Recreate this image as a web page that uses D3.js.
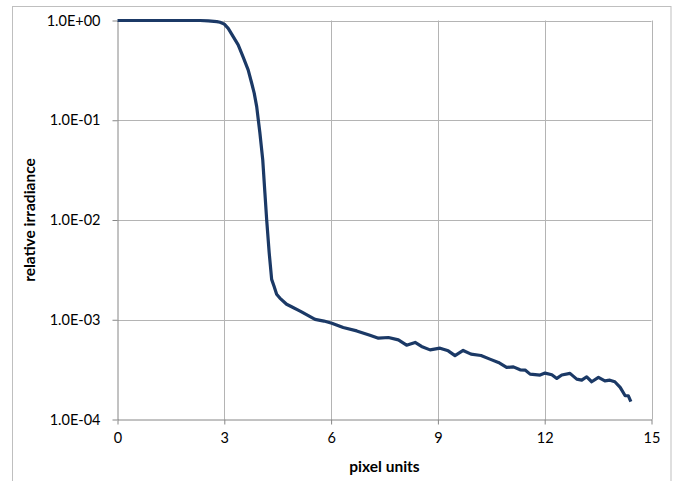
<!DOCTYPE html>
<html>
<head>
<meta charset="utf-8">
<script src="https://cdn.jsdelivr.net/npm/d3@7"></script>
<style>
  html, body { margin: 0; padding: 0; background: #fff; }
  svg { display: block; }
  text { font-family: Lato, "Liberation Sans", Arial, sans-serif; fill: #000; }
</style>
</head>
<body>
<svg id="chart" width="673" height="481"></svg>
<script>
// Edge profile: relative irradiance against distance in pixel units
const pixelUnits = [
  0, 0.5, 1.0, 1.5, 2.0, 2.32, 2.55, 2.79, 2.88, 3.0, 3.11, 3.25, 3.39, 3.53, 3.67, 3.77, 3.84, 3.91, 4.0, 4.08,
  4.14, 4.19, 4.26, 4.33, 4.4, 4.47, 4.56, 4.75, 4.89, 5.13, 5.22, 5.55, 5.8, 6.02,
  6.34, 6.72, 7.09, 7.33, 7.61, 7.89, 8.12, 8.36, 8.54, 8.78, 9.06, 9.29, 9.48,
  9.71, 9.93, 10.21, 10.46, 10.70, 10.93, 11.12, 11.31, 11.45, 11.59, 11.87, 12.01,
  12.20, 12.34, 12.48, 12.71, 12.90, 13.04, 13.18, 13.32, 13.51, 13.69, 13.83,
  13.97, 14.12, 14.26, 14.35, 14.42
];
const irradiance = [
  1.0, 1.0, 1.0, 1.0, 1.0, 1.0, 0.99, 0.975, 0.96, 0.92, 0.835, 0.69, 0.57, 0.43, 0.32, 0.235, 0.187, 0.137, 0.0745, 0.040,
  0.0188, 0.0101, 0.00473, 0.00254, 0.00215, 0.00180, 0.00165, 0.00143, 0.00135, 0.00122, 0.00117, 0.00101, 0.00097, 0.000923,
  0.000836, 0.000773, 0.000700, 0.000653, 0.000664, 0.000628, 0.000556, 0.000592, 0.000540, 0.000499, 0.000519, 0.000488, 0.000437,
  0.000492, 0.000452, 0.000438, 0.000403, 0.000373, 0.000333, 0.000337, 0.000315, 0.000313, 0.000285, 0.000279, 0.000292,
  0.000281, 0.000258, 0.000279, 0.000290, 0.000254, 0.000248, 0.000268, 0.000239, 0.000264, 0.000244, 0.000248,
  0.000239, 0.000210, 0.000173, 0.000173, 0.000151
];
const xTicks = [0, 3, 6, 9, 12, 15];
const yTicks = [1e-4, 1e-3, 1e-2, 1e-1, 1];
const xTitle = "pixel units";
const yTitle = "relative irradiance";

const svg = d3.select("#chart");
const plotLeft = 117.5, plotRight = 651.5, plotTop = 20.5, plotBottom = 419.5;

const x = d3.scaleLinear().domain([0, 15]).range([plotLeft, plotRight]);
const y = d3.scaleLog().domain([1e-4, 1]).range([plotBottom, plotTop]);

// outer chart frame
svg.append("rect")
  .attr("x", 12.5).attr("y", 6.5)
  .attr("width", 658.5).attr("height", 490)
  .attr("fill", "none").attr("stroke", "#bfbfbf").attr("stroke-width", 1);

// gridlines
const grid = svg.append("g").attr("stroke", "#b4b4b4").attr("stroke-width", 1);
grid.selectAll("line.v").data(xTicks.filter(d => d > 0)).join("line")
  .attr("x1", d => Math.round(x(d)) + 0.5).attr("x2", d => Math.round(x(d)) + 0.5)
  .attr("y1", plotTop).attr("y2", plotBottom);
grid.selectAll("line.h").data(yTicks.filter(d => d > 1e-4)).join("line")
  .attr("y1", d => Math.round(y(d)) + 0.5).attr("y2", d => Math.round(y(d)) + 0.5)
  .attr("x1", plotLeft).attr("x2", plotRight);

// x axis
const xAxis = svg.append("g")
  .attr("transform", `translate(0,${plotBottom})`)
  .call(d3.axisBottom(x).tickValues(xTicks).tickSizeInner(5).tickSizeOuter(0).tickPadding(8).tickFormat(d3.format("d")));
xAxis.select(".domain").attr("stroke", "#868686");
xAxis.selectAll(".tick line").attr("stroke", "#868686");
xAxis.selectAll("text").attr("font-size", 14.5).attr("font-family", "Lato, 'Liberation Sans', sans-serif");

// y axis
const yAxis = svg.append("g")
  .attr("transform", `translate(${plotLeft},0)`)
  .call(d3.axisLeft(y).tickValues(yTicks).tickSizeInner(5).tickSizeOuter(0).tickPadding(12)
    .tickFormat(d => d.toExponential(1).toUpperCase().replace(/E([+-])(\d)$/, "E$10$2")));
yAxis.select(".domain").attr("stroke", "#868686");
yAxis.selectAll(".tick line").attr("stroke", "#868686");
yAxis.selectAll("text").attr("font-size", 14.5).attr("font-family", "Lato, 'Liberation Sans', sans-serif");

// axis titles
svg.append("text")
  .attr("x", (plotLeft + plotRight) / 2).attr("y", 472)
  .attr("text-anchor", "middle").attr("font-size", 15.5).attr("font-weight", "bold")
  .text(xTitle);
svg.append("text")
  .attr("transform", `translate(35,${(plotTop + plotBottom) / 2}) rotate(-90)`)
  .attr("text-anchor", "middle").attr("font-size", 15.5).attr("font-weight", "bold")
  .text(yTitle);

// profile curve
const pts = pixelUnits.map((d, i) => [d, irradiance[i]]);
svg.append("path")
  .datum(pts)
  .attr("fill", "none")
  .attr("stroke", "#1b3966")
  .attr("stroke-width", 3.2)
  .attr("stroke-linejoin", "round")
  .attr("d", d3.line().x(d => x(d[0])).y(d => y(d[1])));
</script>
</body>
</html>
